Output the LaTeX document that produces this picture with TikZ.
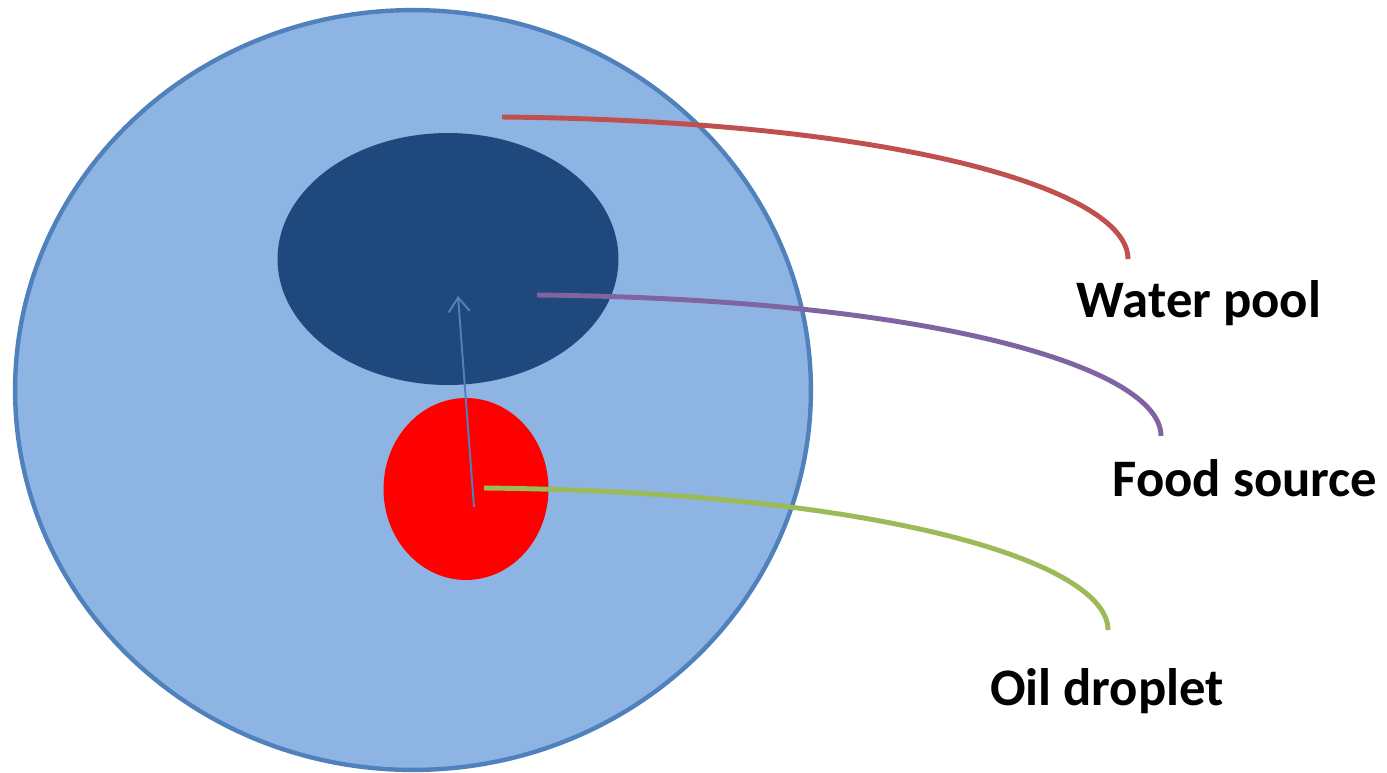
\documentclass[tikz,border=0pt]{standalone}
\usepackage{fontspec}
\setmainfont{Carlito}
\usetikzlibrary{shapes.geometric,arrows.meta}
\definecolor{cellfill}{HTML}{8EB4E3}
\definecolor{celldraw}{HTML}{4F81BD}
\definecolor{pooldark}{HTML}{1F497D}
\definecolor{linered}{HTML}{C0504D}
\definecolor{linepurple}{HTML}{8064A2}
\definecolor{linegreen}{HTML}{9BBB59}
\tikzset{
  blob/.style={ellipse, inner sep=0pt, draw=none},
  leader/.style={line width=2.8pt},
  lbl/.style={font=\bfseries\fontsize{30}{32}\selectfont, anchor=base, inner sep=0pt},
}
\begin{document}
\begin{tikzpicture}[x=0.02cm,y=-0.02cm]
\useasboundingbox (0,0) rectangle (1387,772);
\fill[white] (0,0) rectangle (1387,772);
\node[blob, fill=cellfill, draw=celldraw, line width=2.5pt, minimum width=15.92cm, minimum height=15.2cm] (cell) at (413,390) {};
\node[blob, fill=pooldark, minimum width=6.82cm, minimum height=5.04cm] (pool) at (448,259) {};
\node[blob, fill=red, minimum width=3.3cm, minimum height=3.64cm] (oil) at (466,489) {};
\coordinate (arrS) at (474,507);
\coordinate (arrE) at (458,296);
\draw[celldraw, line width=1.1pt, -{Straight Barb[length=8pt,width=12pt,line width=1.1pt]}] (arrS) -- (arrE);
\coordinate (rS) at (502,117);
\coordinate (rE) at (1128,259);
\coordinate (pS) at (537,295);
\coordinate (pE) at (1161,436);
\coordinate (gS) at (484,488);
\coordinate (gE) at (1108,630);
\draw[leader, linered] (rS) .. controls (900,121) and (1128,190) .. (rE);
\draw[leader, linepurple] (pS) .. controls (935,299) and (1161,368) .. (pE);
\draw[leader, linegreen] (gS) .. controls (882,492) and (1108,562) .. (gE);
\node[lbl] (water) at (1199,317) {Water pool};
\node[lbl] (food) at (1245,496) {Food source};
\node[lbl] (oillbl) at (1107,705) {Oil droplet};
\end{tikzpicture}
\end{document}
